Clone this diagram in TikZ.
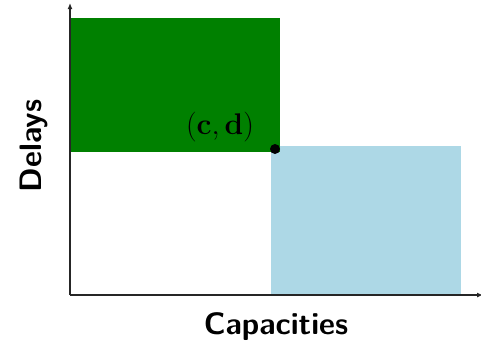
\documentclass[tikz,border=0pt]{standalone}
\usetikzlibrary{arrows.meta}
\definecolor{lblue}{RGB}{173,216,230}
\definecolor{dgreen}{RGB}{0,128,0}
\begin{document}
\begin{tikzpicture}[x=1pt,y=-1pt,
  axis/.style={line width=1.2pt,draw=black!85,-{Latex[length=6pt,width=5pt]}},
  lab/.style={font=\fontsize{31}{36}\selectfont\sffamily\bfseries}]
\useasboundingbox (0,0) rectangle (481,346);
\fill[lblue] (271,146) rectangle (461,295);
\fill[dgreen] (70,18) rectangle (280,152);
\coordinate (o) at (70,295);
\coordinate (yt) at (70,3);
\coordinate (xt) at (483,295);
\draw[axis] (o) -- (yt);
\draw[axis] (o) -- (xt);
\node[circle,fill=black,inner sep=0pt,minimum size=10pt] (p) at (275,149) {};
\node[font=\fontsize{24}{28}\selectfont,scale=1.2] (cd) at (220,127) {$\mathbf{(c,d)}$};
\node[lab] (xl) at (276,327) {Capacities};
\node[lab,rotate=90] (yl) at (34,146) {Delays};
\end{tikzpicture}
\end{document}
